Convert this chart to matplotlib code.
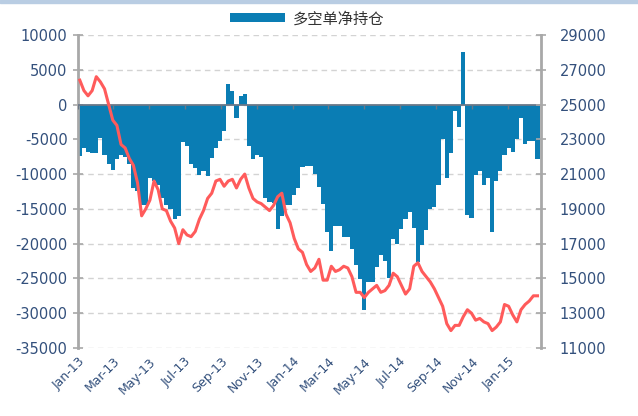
import numpy as np
import pandas as pd
import matplotlib
matplotlib.use("Agg")
import matplotlib.pyplot as plt
import matplotlib.dates as mdates
from matplotlib.patches import Patch, Rectangle

plt.rcParams['font.family'] = ['DejaVu Sans', 'Noto Sans CJK SC']

# weekly samples (Friday of each week)
weeks = pd.date_range('2013-01-04', periods=112, freq='7D')

# 多空单净持仓 (left axis)
net_position = [
    -7400, -6200, -6800, -7000, -7000, -4800, -7200, -8600, -9400, -7800,
    -7200, -7500, -8600, -12000, -12500, -14500, -14500, -10600, -11000, -11500,
    -13500, -14500, -15000, -16400, -16000, -5400, -6000, -8500, -9100, -10100,
    -9500, -10300, -7700, -6300, -5200, -3800, 3000, 2000, -1900, 1200,
    1500, -6000, -7800, -7200, -7500, -13500, -14000, -14200, -17900, -16000,
    -14500, -14500, -13000, -12000, -9000, -8900, -8900, -10000, -11800, -14300,
    -18300, -21000, -17500, -17400, -19100, -19100, -20700, -23100, -25100, -29500,
    -25500, -25500, -23400, -21600, -22500, -25000, -19300, -20000, -17900, -16400,
    -15400, -17800, -22600, -20200, -18000, -15000, -14700, -11500, -5000, -10500,
    -7000, -1000, -3300, 7600, -15900, -16300, -10200, -9600, -11500, -10600,
    -18300, -11000, -9500, -7200, -6300, -6800, -4900, -1900, -5700, -5300,
    -5300, -7800,
]

# price (right axis)
price = [
    26400, 25800, 25500, 25800, 26600, 26300, 25900, 25000, 24100, 23800,
    22700, 22500, 21900, 21500, 20500, 18600, 19000, 19500, 20600, 20100,
    19000, 18900, 18300, 17900, 17000, 17800, 17500, 17400, 17700, 18400,
    18900, 19600, 19900, 20600, 20700, 20300, 20600, 20700, 20200, 20700,
    21000, 20200, 19600, 19400, 19300, 19100, 18900, 19200, 19700, 19900,
    18700, 18200, 17300, 16700, 16500, 15800, 15400, 15600, 16100, 14900,
    14900, 15700, 15400, 15500, 15700, 15600, 15100, 14200, 14200, 13900,
    14200, 14400, 14600, 14200, 14300, 14600, 15300, 15100, 14600, 14100,
    14400, 15700, 15900, 15400, 15100, 14800, 14400, 13900, 13400, 12400,
    12000, 12300, 12300, 12800, 13200, 13000, 12600, 12700, 12500, 12400,
    12000, 12200, 12500, 13500, 13400, 12900, 12500, 13200, 13500, 13700,
    14000, 14000,
]

left_ticks = np.arange(-35000, 10001, 5000)
right_ticks = np.arange(11000, 29001, 2000)
month_ticks = pd.date_range('2013-01-01', '2015-01-01', freq='2MS')

bar_color = '#0A7DB4'
line_color = '#FF5B5B'
label_color = '#33507C'
axis_gray = '#A8A8A8'

fig = plt.figure(figsize=(6.38, 4.16), dpi=100)
ax = fig.add_axes([0.1223, 0.1635, 0.7257, 0.7525])
fig.patches.append(Rectangle((0, 0.992), 1, 0.008, transform=fig.transFigure,
                             color='#B9CDE3', zorder=0))

ax.bar(weeks, net_position, width=7, color=bar_color, linewidth=0, zorder=2)
ax.set_ylim(-35000, 10000)
ax.set_yticks(left_ticks)
ax.set_yticklabels([str(v) for v in left_ticks])
for v in left_ticks:
    ax.axhline(v, color='#D3D3D3', lw=1.0, ls=(0, (4, 3)), zorder=1)
ax.axhline(0, color='#6A7888', lw=1.3, zorder=3)
ax.vlines(month_ticks, -600, 0, color='#6A7888', lw=1.0, zorder=3)

ax.set_xlim(pd.Timestamp('2013-01-02'), pd.Timestamp('2015-02-26'))
ax.set_xticks(month_ticks)
ax.xaxis.set_major_formatter(mdates.DateFormatter('%b-%y'))
ax.tick_params(axis='x', length=0, pad=5, labelsize=9, labelcolor=label_color)
for lbl in ax.get_xticklabels():
    lbl.set_rotation(45)
    lbl.set_ha('right')
    lbl.set_rotation_mode('anchor')

ax.tick_params(axis='y', direction='inout', length=7, width=1.2, color=axis_gray,
               labelsize=10.5, labelcolor=label_color, pad=4)
for s in ['top', 'bottom', 'right']:
    ax.spines[s].set_visible(False)
ax.spines['left'].set_color(axis_gray)
ax.spines['left'].set_linewidth(2)

ax2 = ax.twinx()
ax2.plot(weeks, price, color=line_color, lw=2.2, zorder=4)
ax2.set_ylim(11000, 29000)
ax2.set_yticks(right_ticks)
ax2.set_yticklabels([str(v) for v in right_ticks])
ax2.tick_params(axis='y', direction='inout', length=7, width=1.2, color=axis_gray,
                labelsize=10.5, labelcolor=label_color, pad=10)
for s in ['top', 'bottom', 'left']:
    ax2.spines[s].set_visible(False)
ax2.spines['right'].set_color(axis_gray)
ax2.spines['right'].set_linewidth(2)

handle = Patch(facecolor=bar_color, edgecolor='none')
fig.legend([handle], ['多空单净持仓'], loc='center', bbox_to_anchor=(0.482, 0.955),
           frameon=False, fontsize=11, handlelength=3.6, handleheight=0.55,
           handletextpad=0.5, labelcolor='#333333')

fig.savefig('out.png', dpi=100)
